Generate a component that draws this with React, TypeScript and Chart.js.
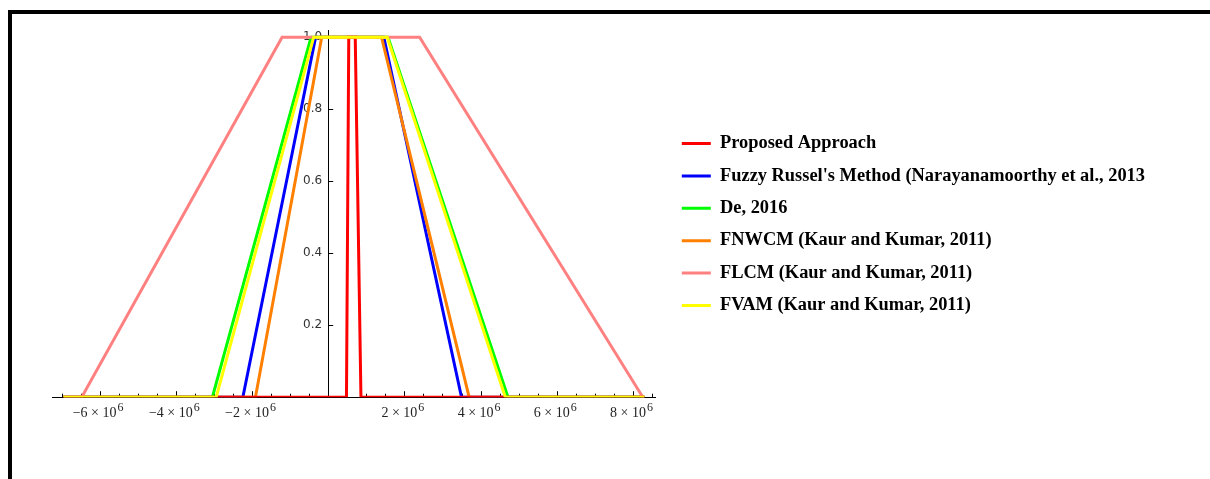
import React, { useEffect, useRef } from "react";
import { Chart, registerables } from "chart.js";

Chart.register(...registerables);

// Plot domain of the membership functions and axis range
const plotDomain = [-6.95e6, 8.3e6];
const axisRangeX = [-7.25e6, 8.6e6];
const axisRangeY = [0, 1.02];

// Membership grades at [domain start, a, b, c, d, domain end]
const membership = [0, 0, 1, 1, 0, 0];

// Trapezoidal fuzzy numbers (a, b, c, d)
const proposedApproach = [0.48e6, 0.54e6, 0.71e6, 0.86e6];
const fuzzyRussel = [-2.24e6, -0.33e6, 1.46e6, 3.50e6];
const de2016 = [-3.04e6, -0.45e6, 1.57e6, 4.72e6];
const fnwcm = [-1.91e6, -0.17e6, 1.40e6, 3.70e6];
const flcm = [-6.47e6, -1.21e6, 2.40e6, 8.26e6];
const fvam = [-2.94e6, -0.38e6, 1.55e6, 4.65e6];

const seriesNames = [
  "Proposed Approach",
  "Fuzzy Russel's Method (Narayanamoorthy et al., 2013",
  "De, 2016",
  "FNWCM (Kaur and Kumar, 2011)",
  "FLCM (Kaur and Kumar, 2011)",
  "FVAM (Kaur and Kumar, 2011)",
];
const seriesValues = [proposedApproach, fuzzyRussel, de2016, fnwcm, flcm, fvam];
const seriesColors = ["#ff0000", "#0000ff", "#00ff00", "#ff8000", "#ff8080", "#ffff00"];
const drawOrder = [1, 5, 4, 3, 2, 0];

// Tick settings
const xMinorStep = 0.5e6;
const xMajorStep = 2e6;
const xExponent = 6;
const yMinorStep = 0.05;
const yMajorStep = 0.2;

const serif = "'Liberation Serif', 'Times New Roman', serif";

const toPoints = (v: number[]) => {
  const xs = [plotDomain[0], v[0], v[1], v[2], v[3], plotDomain[1]];
  return xs.map((x, i) => ({ x, y: membership[i] }));
};

const isMultiple = (v: number, step: number) => Math.abs(v / step - Math.round(v / step)) < 1e-6;

const stepTicks = (min: number, max: number, step: number) => {
  const out: { value: number }[] = [];
  for (let k = Math.ceil(min / step - 1e-9); k * step <= max + 1e-9; k++) {
    out.push({ value: Math.round(k * step * 1e6) / 1e6 });
  }
  return out;
};

const axisDecor = {
  id: "axisDecor",
  beforeDatasetsDraw(chart: any) {
    const { ctx } = chart;
    const xs = chart.scales.x;
    const ys = chart.scales.y;
    const x0 = xs.getPixelForValue(0);
    const y0 = ys.getPixelForValue(0);
    ctx.save();
    ctx.strokeStyle = "#000";
    ctx.lineWidth = 1;
    ctx.beginPath();
    xs.ticks.forEach((t: any) => {
      if (Math.abs(t.value) < 1) return;
      const px = Math.round(xs.getPixelForValue(t.value)) + 0.5;
      const len = isMultiple(t.value, xMajorStep) ? 6 : 3.5;
      ctx.moveTo(px, y0);
      ctx.lineTo(px, y0 - len);
    });
    ys.ticks.forEach((t: any) => {
      if (Math.abs(t.value) < 1e-9) return;
      const py = Math.round(ys.getPixelForValue(t.value)) + 0.5;
      const len = isMultiple(t.value, yMajorStep) ? 5 : 3;
      ctx.moveTo(x0, py);
      ctx.lineTo(x0 + len, py);
    });
    ctx.stroke();

    // x tick labels: "−6 × 10⁶" with a real superscript
    ctx.fillStyle = "#222";
    ctx.textBaseline = "alphabetic";
    ctx.textAlign = "left";
    const mainFont = `14px ${serif}`;
    const supFont = `12px ${serif}`;
    xs.ticks.forEach((t: any) => {
      if (Math.abs(t.value) < 1 || !isMultiple(t.value, xMajorStep)) return;
      const m = Math.round(t.value / Math.pow(10, xExponent));
      const main = `${m < 0 ? "\u2212" : ""}${Math.abs(m)} \u00d7 10`;
      const sup = String(xExponent);
      ctx.font = mainFont;
      const wMain = ctx.measureText(main).width;
      ctx.font = supFont;
      const wSup = ctx.measureText(sup).width;
      const px = xs.getPixelForValue(t.value);
      const left = px - 1.5 - (wMain + wSup + 1) / 2;
      ctx.font = mainFont;
      ctx.fillText(main, left, y0 + 20);
      ctx.font = supFont;
      ctx.fillText(sup, left + wMain + 1, y0 + 14);
    });
    ctx.restore();
  },
};

export default function App() {
  const ref = useRef<HTMLCanvasElement>(null);

  useEffect(() => {
    if (!ref.current) return;
    const chart = new Chart(ref.current, {
      type: "scatter",
      data: {
        datasets: seriesValues.map((v, i) => ({
          label: seriesNames[i],
          data: toPoints(v),
          showLine: true,
          borderColor: seriesColors[i],
          backgroundColor: seriesColors[i],
          borderWidth: 3,
          pointRadius: 0,
          tension: 0,
          order: drawOrder[i],
        })),
      },
      options: {
        animation: false,
        responsive: false,
        events: [],
        layout: { padding: { left: 52, top: 30, right: 55, bottom: 60 } },
        plugins: {
          tooltip: { enabled: false },
          legend: {
            position: "right",
            align: "center",
            maxWidth: 700,
            labels: {
              boxWidth: 29,
              boxHeight: 3,
              padding: 14,
              color: "#000",
              font: { family: serif, size: 18.4, weight: "bold" },
              sort: (a: any, b: any) => a.datasetIndex - b.datasetIndex,
              generateLabels: (chart: any) =>
                chart.data.datasets.map((d: any, i: number) => ({
                  text: d.label,
                  fillStyle: d.borderColor,
                  strokeStyle: d.borderColor,
                  lineWidth: 0,
                  hidden: false,
                  datasetIndex: i,
                })),
            },
          },
        },
        scales: {
          x: {
            type: "linear",
            position: "bottom",
            min: axisRangeX[0],
            max: axisRangeX[1],
            afterBuildTicks: (s: any) => {
              s.ticks = stepTicks(axisRangeX[0], axisRangeX[1], xMinorStep);
            },
            grid: { display: true, drawOnChartArea: false, drawTicks: false },
            border: { display: true, color: "#000", width: 1 },
            ticks: {
              autoSkip: false,
              maxRotation: 0,
              padding: 2.5,
              font: { family: serif, size: 14 },
              callback: () => "",
            },
          },
          y: {
            type: "linear",
            position: { x: 0 } as any,
            min: axisRangeY[0],
            max: axisRangeY[1],
            afterBuildTicks: (s: any) => {
              s.ticks = stepTicks(axisRangeY[0], axisRangeY[1], yMinorStep);
            },
            grid: { display: true, drawOnChartArea: false, drawTicks: false },
            border: { display: true, color: "#000", width: 1 },
            ticks: {
              autoSkip: false,
              padding: 0,
              color: "#333",
              font: { family: "'DejaVu Sans', sans-serif", size: 12 },
              callback: (v: any) => {
                const n = Number(v);
                if (n < 1e-9 || !isMultiple(n, yMajorStep)) return null;
                return n.toFixed(1) + "\u2002";
              },
            },
          },
          gap: {
            type: "linear",
            axis: "y",
            position: "right",
            display: true,
            grid: { display: false, drawTicks: false },
            border: { display: false },
            ticks: { display: false },
            afterFit: (s: any) => {
              s.width = 12;
            },
          } as any,
        },
      } as any,
      plugins: [axisDecor],
    });
    return () => chart.destroy();
  }, []);

  return (
    <div style={{ position: "fixed", left: 0, top: 0, width: 1210, height: 479, background: "#fff" }}>
      <div
        style={{
          position: "absolute",
          left: 8,
          top: 10,
          width: 1202,
          height: 469,
          borderTop: "4px solid #000",
          borderLeft: "4px solid #000",
          boxSizing: "border-box",
        }}
      />
      <canvas ref={ref} width={1210} height={479} style={{ position: "absolute", left: 0, top: 0 }} />
    </div>
  );
}
